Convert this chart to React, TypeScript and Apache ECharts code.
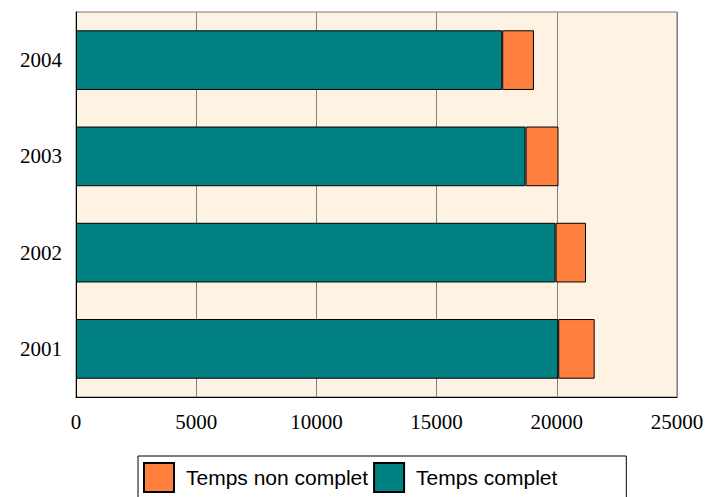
import React, { useEffect, useRef } from "react";
import * as echarts from "echarts";

const years = ["2001", "2002", "2003", "2004"];
const tempsComplet = [20060, 19950, 18700, 17730];
const tempsNonComplet = [1515, 1265, 1370, 1320];
const xMin = 0;
const xMax = 25000;
const xInterval = 5000;

export default function App() {
  const ref = useRef<HTMLDivElement>(null);
  useEffect(() => {
    if (!ref.current) return;
    const chart = echarts.init(ref.current, null, { renderer: "svg" });
    const serif = "'Liberation Serif', 'Times New Roman', serif";
    const sans = "'Liberation Sans', Arial, sans-serif";
    chart.setOption({
      animation: false,
      backgroundColor: "#ffffff",
      grid: {
        left: 76,
        top: 12,
        right: 30,
        bottom: 100,
        show: true,
        backgroundColor: "#FEF3E2",
        borderColor: "#777777",
        borderWidth: 1,
      },
      legend: {
        data: ["Temps non complet", "Temps complet"],
        left: 138,
        top: 456,
        orient: "horizontal",
        padding: [6, 69, 10, 5],
        itemWidth: 30,
        itemHeight: 29,
        itemGap: 5,
        icon: "rect",
        borderColor: "#000000",
        borderWidth: 1,
        borderRadius: 0,
        textStyle: {
          fontFamily: sans,
          fontSize: 21,
          color: "#000000",
          padding: [0, 0, 0, 7],
        },
      },
      xAxis: {
        type: "value",
        min: xMin,
        max: xMax,
        interval: xInterval,
        axisLine: { show: true, lineStyle: { color: "#000000", width: 1 } },
        axisTick: { show: false },
        axisLabel: {
          fontFamily: serif,
          fontSize: 21,
          color: "#000000",
          margin: 14,
          formatter: (v: number) => String(v),
        },
        splitLine: {
          show: true,
          showMinLine: false,
          showMaxLine: true,
          lineStyle: {
            color: ["#808080", "#808080", "#808080", "#808080", "#808080", "#000000"],
            width: 1,
          },
        },
      },
      yAxis: {
        type: "category",
        data: years,
        axisLine: { show: true, lineStyle: { color: "#000000", width: 1 } },
        axisTick: { show: false },
        axisLabel: {
          fontFamily: serif,
          fontSize: 21,
          color: "#000000",
          margin: 14,
        },
        splitLine: { show: false },
      },
      series: [
        {
          name: "Temps complet",
          type: "bar",
          stack: "total",
          data: tempsComplet,
          barWidth: "62%",
          itemStyle: { color: "#008080", borderColor: "#000000", borderWidth: 1 },
        },
        {
          name: "Temps non complet",
          type: "bar",
          stack: "total",
          data: tempsNonComplet,
          barWidth: "62%",
          itemStyle: { color: "#FF7F3F", borderColor: "#000000", borderWidth: 1 },
        },
      ],
    });
    return () => chart.dispose();
  }, []);
  return (
    <div
      ref={ref}
      style={{ position: "fixed", left: 0, top: 0, width: 707, height: 497 }}
    />
  );
}
